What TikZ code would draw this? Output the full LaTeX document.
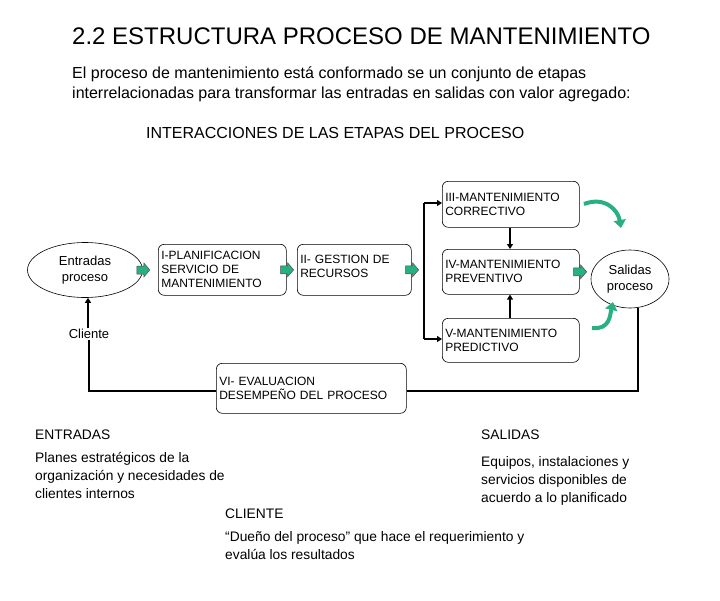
\documentclass[tikz,border=0pt]{standalone}
\usepackage{fontspec}
\setmainfont{Liberation Sans}
\usetikzlibrary{arrows.meta,shapes.arrows,shapes.geometric}
\definecolor{gr}{RGB}{40,175,130}
\tikzset{
 stage/.style={draw,rounded corners=6pt,line width=0.6pt,align=left,font=\fontsize{12}{14}\selectfont,inner sep=1.5pt},
 oval/.style={draw,ellipse,line width=0.6pt,align=center,font=\fontsize{13}{16}\selectfont},
 garrow/.style={draw=black!70,fill=gr,line width=0.5pt},
 blk/.style={line width=1.6pt,-{Triangle[length=5pt,width=6pt]}},
 fb/.style={line width=1.6pt},
 curv/.style={line width=4pt,gr,-{Triangle[length=8pt,width=12pt]}},
 txt/.style={anchor=north west,align=left,font=\fontsize{13.8}{18}\selectfont,inner sep=0pt}
}
\newcommand{\garr}[1]{\draw[garrow] ($(#1)+(-6,-4)$) -- ++(7,0) -- ++(0,-3) -- ++(6,7) -- ++(-6,7) -- ++(0,-3) -- ++(-7,0) -- cycle;}
\usetikzlibrary{calc}
\begin{document}
\begin{tikzpicture}[x=1pt,y=-1pt]
\useasboundingbox (0,0) rectangle (720,600);
\node[anchor=west,font=\fontsize{24}{28}\selectfont,inner sep=0pt] (title) at (72,36) {2.2 ESTRUCTURA PROCESO DE MANTENIMIENTO};
\node[txt,font=\fontsize{16}{20}\selectfont] (intro) at (72,67) {El proceso de mantenimiento está conformado se un conjunto de etapas\\interrelacionadas para transformar las entradas en salidas con valor agregado:};
\node[anchor=west,font=\fontsize{16}{18}\selectfont,inner sep=0pt] (inter) at (146,133) {INTERACCIONES DE LAS ETAPAS DEL PROCESO};

\node[oval,minimum width=115pt,minimum height=55pt] (ent) at (85,270) {Entradas\\proceso};
\node[stage,minimum width=128pt,minimum height=51pt,anchor=north west,text width=122pt] (s1) at (158,244) {I-PLANIFICACION\\SERVICIO DE\\MANTENIMIENTO};
\node[stage,minimum width=114pt,minimum height=51pt,anchor=north west,text width=108pt,text depth=20pt] (s2) at (297,244) {II- GESTION DE\\RECURSOS};
\node[stage,minimum width=137pt,minimum height=46pt,anchor=north west,text width=131pt] (s3) at (442,181) {III-MANTENIMIENTO\\CORRECTIVO};
\node[stage,minimum width=137pt,minimum height=45pt,anchor=north west,text width=131pt] (s4) at (442,249) {IV-MANTENIMIENTO\\PREVENTIVO};
\node[stage,minimum width=137pt,minimum height=44pt,anchor=north west,text width=131pt] (s5) at (442,318) {V-MANTENIMIENTO\\PREDICTIVO};
\node[stage,minimum width=190pt,minimum height=50pt,anchor=north west,text width=184pt] (s6) at (216,363) {VI- EVALUACION\\DESEMPEÑO DEL PROCESO};
\node[oval,minimum width=78pt,minimum height=58pt,inner sep=0pt] (sal) at (630,279) {Salidas\\proceso};
\node[font=\fontsize{13}{15}\selectfont,inner sep=1pt] (cli) at (89,334) {Cliente};

\garr{ent.east}
\garr{s1.east}
\garr{s2.east}
\garr{s4.east}

\coordinate (bt) at (424,203);
\coordinate (bb) at (424,339);
\draw[fb] (bt) -- (bb);
\draw[blk] (bt) -- (s3.west|-bt);
\draw[blk] (bb) -- (s5.west|-bb);
\draw[blk] (s3.south-|510,0) -- (s4.north-|510,0);
\draw[blk] (s5.north-|510,0) -- (s4.south-|510,0);
\draw[blk] (cli.north-|88,0) -- (ent.south-|88,0);

\coordinate (c1) at (638,391);
\coordinate (c2) at (89,391);
\draw[fb] (sal.south-|638,0) -- (c1) -- (s6.east|-c1);
\draw[fb] (s6.west|-c2) -- (c2) -- (cli.south-|89,0);

\draw[curv] (584,204) .. controls (605,196) and (618,210) .. (621,228);
\draw[curv] (592,328) .. controls (610,330) and (610,315) .. (613,302);

\node[txt] (entT) at (35,430) {ENTRADAS};
\node[txt] (entD) at (35,452) {Planes estratégicos de la\\organización y necesidades de\\clientes internos};
\node[txt] (salT) at (481,430) {SALIDAS};
\node[txt] (salD) at (481,456) {Equipos, instalaciones y\\servicios disponibles de\\acuerdo a lo planificado};
\node[txt] (cliT) at (225,509) {CLIENTE};
\node[txt] (cliD) at (225,531) {“Dueño del proceso” que hace el requerimiento y\\evalúa los resultados};
\end{tikzpicture}
\end{document}
